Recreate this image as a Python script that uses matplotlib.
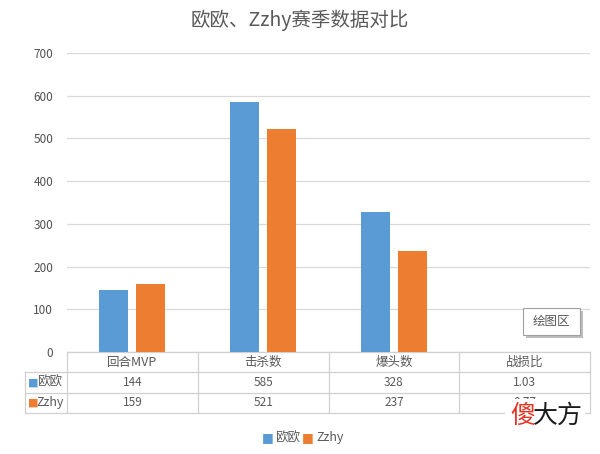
import matplotlib
matplotlib.use('Agg')
import matplotlib.pyplot as plt
import numpy as np
from matplotlib.transforms import blended_transform_factory
from matplotlib.lines import Line2D
from matplotlib.patches import Rectangle

plt.rcParams['font.family'] = ['Noto Sans CJK SC', 'DejaVu Sans']

# data
title = '欧欧、Zzhy赛季数据对比'
categories = ['回合MVP', '击杀数', '爆头数', '战损比']
series_names = ['欧欧', 'Zzhy']
ouou = [144, 585, 328, 1.03]
zzhy = [159, 521, 237, 0.77]
ouou_labels = ['144', '585', '328', '1.03']
zzhy_labels = ['159', '521', '237', '0.77']
yticks = [0, 100, 200, 300, 400, 500, 600, 700]

BLUE = '#5B9BD5'
ORANGE = '#ED7D31'
TXT = '#595959'
GRID = '#D9D9D9'

W, H = 600, 454
fig = plt.figure(figsize=(6, 4.54), dpi=100)
ax = fig.add_axes([67 / W, (H - 352) / H, 523 / W, 299 / H])

x = np.arange(len(categories))
bw = 0.222
off = 0.1415
ax.bar(x - off, ouou, bw, color=BLUE, zorder=3)
ax.bar(x + off, zzhy, bw, color=ORANGE, zorder=3)

ax.set_xlim(-0.5, len(categories) - 0.5)
ax.set_ylim(0, 700)
ax.set_yticks(yticks)
ax.set_yticklabels([str(t) for t in yticks], color='#505050', fontsize=8.5)
ax.tick_params(axis='y', length=0, pad=10)
ax.set_xticks([])
ax.grid(axis='y', color=GRID, linewidth=0.9, zorder=0)
for s in ax.spines.values():
    s.set_visible(False)

# data table under the plot
tr = blended_transform_factory(ax.transData, ax.transAxes)
rh = 20.3 / 299
left_lbl = -0.5 + (25 - 67) / 130.75
rows_y = [0, -rh, -2 * rh, -3 * rh]
lc = '#D0D0D0'
ax.add_line(Line2D([-0.5, 3.5], [0, 0], transform=tr, color=lc, lw=0.9, clip_on=False))
for yy in rows_y[1:]:
    ax.add_line(Line2D([left_lbl, 3.5], [yy, yy], transform=tr, color=lc, lw=0.9, clip_on=False))
for xx in np.arange(-0.5, 4.0, 1.0):
    ax.add_line(Line2D([xx, xx], [0, rows_y[-1]], transform=tr, color=lc, lw=0.9, clip_on=False))
ax.add_line(Line2D([left_lbl, left_lbl], [rows_y[1], rows_y[-1]], transform=tr, color=lc, lw=0.9, clip_on=False))

for i, c in enumerate(categories):
    ax.text(i, -0.5 * rh, c, transform=tr, ha='center', va='center', fontsize=9, color=TXT)
for i, (a, b) in enumerate(zip(ouou_labels, zzhy_labels)):
    ax.text(i, -1.5 * rh, a, transform=tr, ha='center', va='center', fontsize=8.5, color=TXT)
    ax.text(i, -2.5 * rh, b, transform=tr, ha='center', va='center', fontsize=8.5, color=TXT)

for k, (name, col) in enumerate(zip(series_names, [BLUE, ORANGE])):
    yc = -(1.5 + k) * rh
    ax.text(left_lbl + 0.02, yc, '\u25A0', transform=tr, ha='left', va='center',
            fontsize=8, color=col, family='DejaVu Sans')
    ax.text(left_lbl + 0.09, yc, name, transform=tr, ha='left', va='center', fontsize=9, color=TXT)

# title
fig.text(0.5, 1 - 20 / H, title, ha='center', va='center', fontsize=14, color=TXT)

# legend
ly = 1 - 438 / H
fig.text(262 / W, ly, '\u25A0', ha='left', va='center', fontsize=9, color=BLUE, family='DejaVu Sans')
fig.text(275 / W, ly, series_names[0], ha='left', va='center', fontsize=9, color=TXT)
fig.text(302 / W, ly, '\u25A0', ha='left', va='center', fontsize=9, color=ORANGE, family='DejaVu Sans')
fig.text(316 / W, ly, series_names[1], ha='left', va='center', fontsize=9, color=TXT)

# excel tooltip with a small shadow
fig.patches.append(Rectangle((526 / W, 1 - 338 / H), 57 / W, 27 / H, transform=fig.transFigure,
                             fc='#BDBDBD', ec='none', zorder=4))
fig.patches.append(Rectangle((523 / W, 1 - 335 / H), 57 / W, 27 / H, transform=fig.transFigure,
                             fc='white', ec='#A0A0A0', lw=0.8, zorder=4.5))
fig.text(551.5 / W, 1 - 321.5 / H, '绘图区', ha='center', va='center', fontsize=9, color=TXT, zorder=5)

# watermark (covers the lower part of the last table cell)
fig.patches.append(Rectangle((505 / W, 1 - 432 / H), 80 / W, 33 / H, transform=fig.transFigure,
                             fc='white', ec='none', zorder=4))
fig.text(510 / W, 1 - 416 / H, '傻', ha='left', va='center', fontsize=18, color='#E53222', zorder=5)
fig.text(533 / W, 1 - 416 / H, '大方', ha='left', va='center', fontsize=18, color='#1A1A1A', zorder=5)

fig.savefig('out.png', dpi=100, facecolor='white')
